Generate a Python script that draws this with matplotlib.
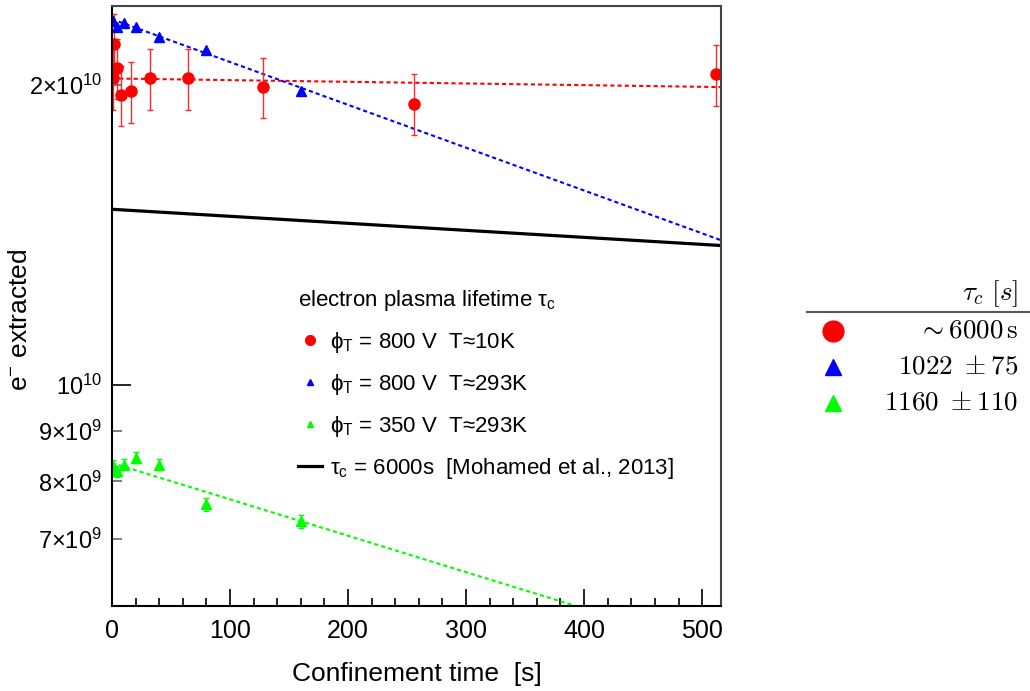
import matplotlib.pyplot as plt
from matplotlib.lines import Line2D

plt.rcParams['font.family'] = ['Liberation Sans', 'DejaVu Sans']
plt.rcParams['mathtext.fontset'] = 'custom'
plt.rcParams['mathtext.rm'] = 'Liberation Sans'
plt.rcParams['mathtext.it'] = 'Liberation Sans:italic'
plt.rcParams['mathtext.bf'] = 'Liberation Sans:bold'
plt.rcParams['mathtext.sf'] = 'Liberation Sans'
plt.rcParams['lines.scale_dashes'] = False

# phi_T = 800 V, T~10K
t_red = [1, 2, 4, 8, 16, 32, 64, 128, 256, 512]
n_red = [2.03e10, 2.20e10, 2.08e10, 1.954e10, 1.97e10, 2.03e10, 2.03e10, 1.99e10, 1.915e10, 2.05e10]
err_red = [1.42e9, 1.54e9, 1.46e9, 1.37e9, 1.38e9, 1.42e9, 1.42e9, 1.39e9, 1.34e9, 1.44e9]

# phi_T = 800 V, T~293K
t_blue = [1, 4, 10, 20, 40, 80, 160]
n_blue = [2.318e10, 2.288e10, 2.306e10, 2.288e10, 2.236e10, 2.17e10, 1.97e10]

# phi_T = 350 V, T~293K
t_green = [1, 4, 10, 20, 40, 80, 160]
n_green = [8.29e9, 8.19e9, 8.32e9, 8.45e9, 8.32e9, 7.59e9, 7.30e9]
err_green = [1.1e8, 1.1e8, 1.1e8, 1.1e8, 1.1e8, 1.1e8, 1.1e8]

# exponential fits (straight lines on the log axis), start/end values
fit_t = [0, 516]
fit_red = [2.03e10, 1.99e10]
fit_blue = [2.328e10, 1.397e10]
fit_green = [8.35e9, 5.41e9]
ref_t = [2, 516]
ref_black = [1.50e10, 1.38e10]

# table on the right
tab_rows = [r'$\sim 6000\,\mathrm{s}$', r'$1022\ \pm 75$', r'$1160\ \pm 110$']

W, H = 1030, 691
fig = plt.figure(figsize=(W / 100, H / 100), dpi=100)
ax = fig.add_axes([112 / W, 1 - 606 / H, (721 - 112) / W, 600 / H])
ax.set_yscale('log')

dash = (3, 2.2)
ax.plot(fit_t, fit_red, color='red', lw=1.5, dashes=dash)
ax.plot(fit_t, fit_blue, color='blue', lw=1.5, dashes=dash)
ax.plot(fit_t, fit_green, color='#00ff00', lw=1.5, dashes=dash)
ax.plot(ref_t, ref_black, color='black', lw=2.3)

ax.errorbar(t_red, n_red, yerr=err_red, fmt='o', color='red', ms=8, ecolor='#ff2a2a',
            elinewidth=1, capsize=2.5, capthick=1)
ax.plot(t_blue, n_blue, '^', color='blue', ms=6.5, mec='blue')
ax.errorbar(t_green, n_green, yerr=err_green, fmt='^', color='#00ff00', ms=6.5,
            elinewidth=1, capsize=2.5, capthick=1)

ax.set_xlim(0, 516)
ax.set_ylim(6.0e9, 2.40e10)

ax.set_xticks(range(0, 501, 100))
ax.set_xticks(range(0, 517, 20), minor=True)
ax.set_yticks([1e10], labels=[r'$10^{10}$'])
ax.set_yticks([7e9, 8e9, 9e9, 2e10], minor=True,
              labels=[r'$7{\times}10^{9}$', r'$8{\times}10^{9}$', r'$9{\times}10^{9}$', r'$2{\times}10^{10}$'])

ax.tick_params(axis='x', which='major', direction='in', length=12, width=1.2, pad=9, labelsize=18)
ax.tick_params(axis='x', which='minor', direction='in', length=6, width=1.2)
ax.tick_params(axis='y', which='major', direction='in', length=13.5, width=1.2, pad=7, labelsize=17)
ax.tick_params(axis='y', which='minor', direction='in', length=7, width=1.2, color='#666666',
               pad=7, labelsize=17)

for s in ['left', 'bottom']:
    ax.spines[s].set_linewidth(1.5)
for s in ['top', 'right']:
    ax.spines[s].set_linewidth(1.5)
    ax.spines[s].set_color('#444444')

handles = [
    Line2D([], [], marker='o', color='red', ls='none', ms=7),
    Line2D([], [], marker='^', color='blue', ls='none', ms=5),
    Line2D([], [], marker='^', color='#00ff00', ls='none', ms=5),
    Line2D([], [], color='black', lw=2.3),
]
labels = [
    'ϕ$_{\\mathrm{T}}$ = 800 V  T≈10K',
    'ϕ$_{\\mathrm{T}}$ = 800 V  T≈293K',
    'ϕ$_{\\mathrm{T}}$ = 350 V  T≈293K',
    'τ$_{\\mathrm{c}}$ = 6000s  [Mohamed et al., 2013]',
]
ax.legend(handles, labels, title='electron plasma lifetime τ$_{\\mathrm{c}}$',
          loc='upper left', bbox_to_anchor=(298 / W, 1 - 288 / H), bbox_transform=fig.transFigure,
          frameon=False, fontsize=16, title_fontsize=16, handlelength=1.1,
          handletextpad=0.35, labelspacing=0.76, borderpad=0, borderaxespad=0, alignment='left')

fig.text(417 / W, 1 - 674 / H, 'Confinement time  [s]', ha='center', va='center', fontsize=19)
fig.text(20 / W, 1 - 320 / H, r'e$^{-}$ extracted', rotation=90, ha='center', va='center', fontsize=19)

# right-hand summary table
fig.text(1018 / W, 1 - 294 / H, r'$\tau_c\ [s]$', ha='right', va='center', fontsize=19.5,
         math_fontfamily='cm')
fig.add_artist(Line2D([807 / W, 1.0], [1 - 312 / H, 1 - 312 / H], transform=fig.transFigure,
                      color='#555555', lw=1.5))
tab_marks = [('o', 'red', 15), ('^', 'blue', 12), ('^', '#00ff00', 12)]
for i, (txt, (m, c, ms)) in enumerate(zip(tab_rows, tab_marks)):
    y = 1 - (331 + 36 * i) / H
    fig.add_artist(Line2D([833 / W], [y], marker=m, color=c, ms=ms, ls='none',
                          transform=fig.transFigure))
    fig.text(1018 / W, y, txt, ha='right', va='center', fontsize=19.5, math_fontfamily='cm')

fig.savefig('out.png', dpi=100)
